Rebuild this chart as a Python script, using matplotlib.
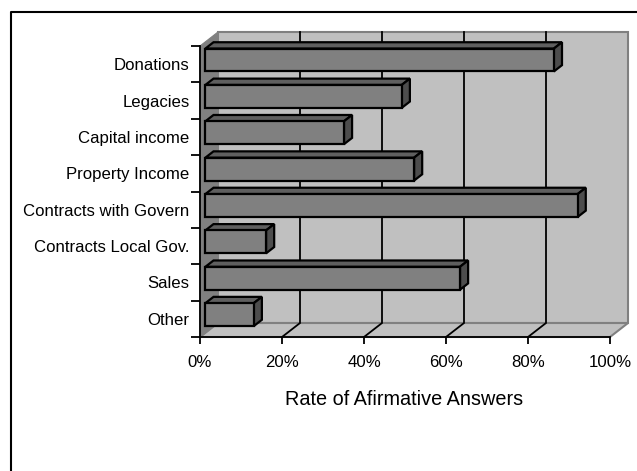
import matplotlib
matplotlib.use('Agg')
import matplotlib.pyplot as plt
from matplotlib.patches import Polygon

categories = ['Other', 'Sales', 'Contracts Local Gov.', 'Contracts with Govern',
              'Property Income', 'Capital income', 'Legacies', 'Donations']
rates = [11.8, 62.1, 14.8, 90.8, 50.9, 33.8, 47.9, 85.0]
x_ticks = [0, 20, 40, 60, 80, 100]
x_labels = ['0%', '20%', '40%', '60%', '80%', '100%']

plt.rcParams['font.family'] = 'Liberation Sans'
W, H = 637, 471

# floor/wall depth, in data units
DEPTH_X = 18 / 4.1
DEPTH_Y = 14 / 36.4
BAR_START = 0.30
BAR_END = 0.75
BAR_HEIGHT = 0.63
WALL = '#c0c0c0'
EDGE = '#808080'


def shifted(x, y, d):
    return (x + DEPTH_X * d, y + DEPTH_Y * d)


def poly(ax, pts, face, edge='black', lw=1.6, z=2):
    ax.add_patch(Polygon(pts, closed=True, facecolor=face, edgecolor=edge,
                         linewidth=lw, joinstyle='miter', zorder=z, clip_on=False))


fig = plt.figure(figsize=(W / 100, H / 100), dpi=100)
ax = fig.add_axes([200 / W, 1 - 337 / H, 410 / W, 291 / H])
ax.set_xlim(0, 100)
ax.set_ylim(0, 8)
ax.patch.set_visible(False)

n = len(categories)
# back wall, floor and left wall
poly(ax, [shifted(0, 0, 1), shifted(100, 0, 1), shifted(100, n, 1), shifted(0, n, 1)], WALL, EDGE, 1.5, 1)
poly(ax, [(0, 0), (100, 0), shifted(100, 0, 1), shifted(0, 0, 1)], WALL, EDGE, 1.5, 1)
poly(ax, [(0, 0), shifted(0, 0, 1), shifted(0, n, 1), (0, n)], EDGE, EDGE, 0.8, 1)

# gridlines run along the floor then up the back wall
for t in x_ticks[1:-1]:
    ax.plot([t, shifted(t, 0, 1)[0], shifted(t, n, 1)[0]],
            [0, shifted(t, 0, 1)[1], shifted(t, n, 1)[1]],
            color='black', lw=1.3, zorder=1.5, clip_on=False, solid_joinstyle='miter')

for i, rate in enumerate(rates):
    y0 = i + 0.5 - BAR_HEIGHT / 2
    y1 = i + 0.5 + BAR_HEIGHT / 2
    fl = shifted(0, y0, BAR_START)
    fr = shifted(rate, y0, BAR_START)
    tl = shifted(0, y1, BAR_START)
    tr = shifted(rate, y1, BAR_START)
    btl = shifted(0, y1, BAR_END)
    btr = shifted(rate, y1, BAR_END)
    bbr = shifted(rate, y0, BAR_END)
    poly(ax, [tl, tr, btr, btl], '#5f5f5f', z=3 + i * 0.1)
    poly(ax, [fr, tr, btr, bbr], '#4d4d4d', z=3 + i * 0.1)
    poly(ax, [fl, fr, tr, tl], '#808080', z=3.05 + i * 0.1)

for side in ['top', 'right']:
    ax.spines[side].set_visible(False)
for side in ['left', 'bottom']:
    ax.spines[side].set_linewidth(1.3)
    ax.spines[side].set_zorder(6)

ax.set_xticks(x_ticks)
ax.set_xticklabels(x_labels, fontsize=12.1, color='black')
ax.tick_params(axis='x', length=5, width=1.3, pad=8.2)

# ticks sit between categories, labels in the middle of each band
ax.set_yticks(range(n + 1))
ax.set_yticklabels([])
ax.set_yticks([i + 0.5 for i in range(n)], minor=True)
ax.set_yticklabels(categories, minor=True, fontsize=12.1)
ax.tick_params(axis='y', which='major', length=6.5, width=1.3)
ax.tick_params(axis='y', which='minor', length=0, pad=7.5)

ax.set_xlabel('Rate of Afirmative Answers', fontsize=14.3)
ax.xaxis.set_label_coords(204 / 410, -53 / 291)

# open frame along the top and left of the chart area
fig.add_artist(plt.Line2D([10.5 / W, 10.5 / W, 1], [0, 1 - 11.5 / H, 1 - 11.5 / H],
                          color='black', lw=1.5))

fig.savefig('out.png', dpi=100)
